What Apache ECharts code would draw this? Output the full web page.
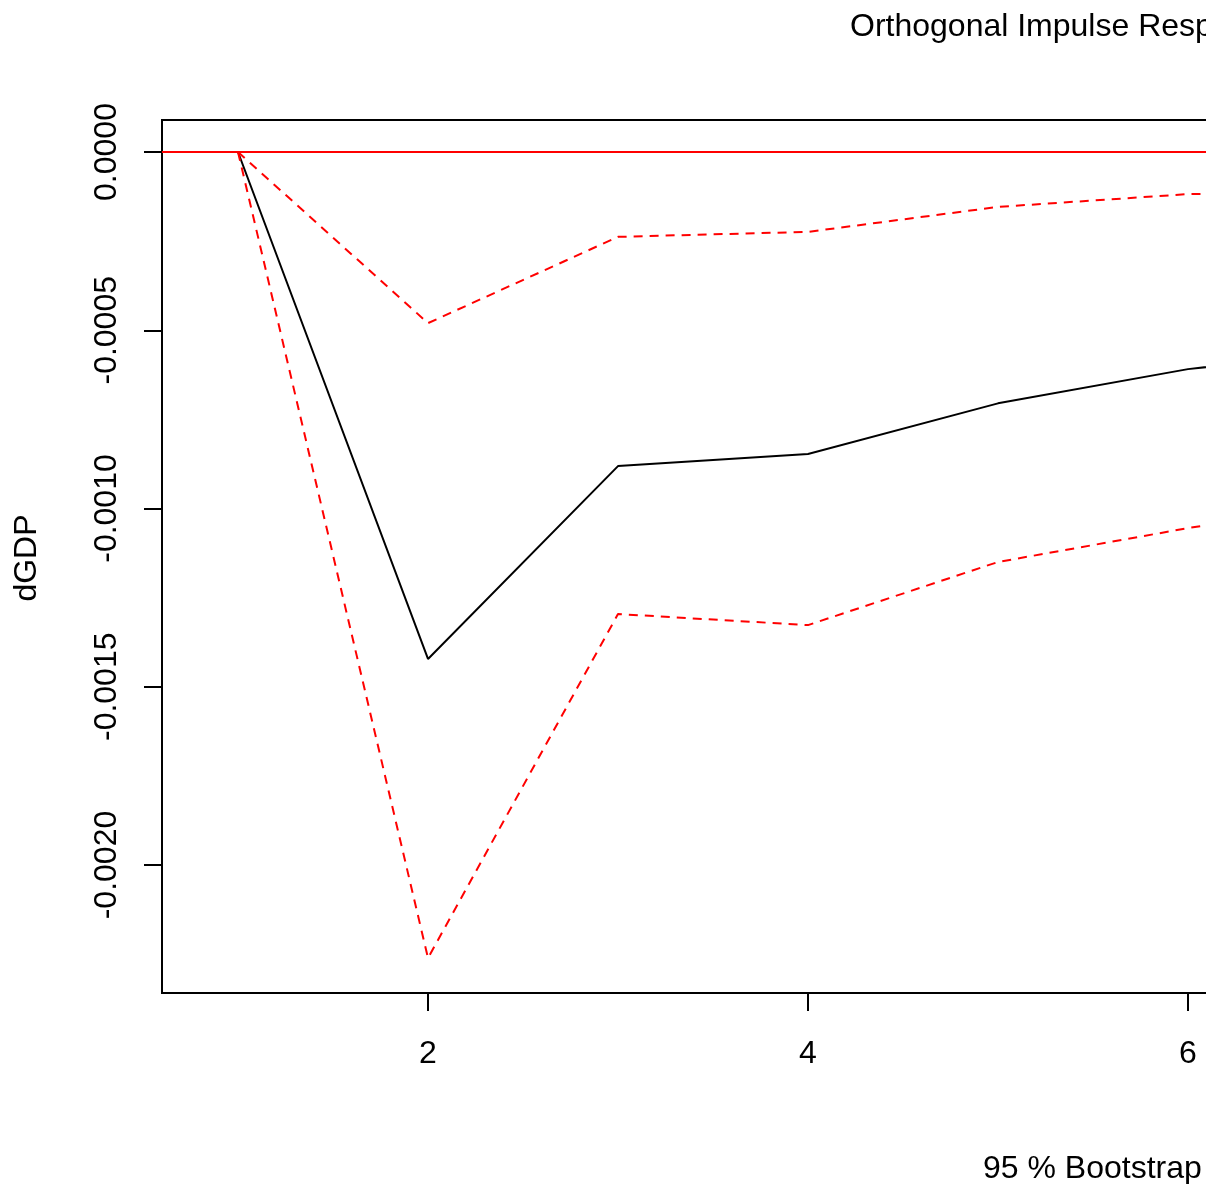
<!DOCTYPE html>
<html>
<head>
<meta charset="utf-8">
<title>Orthogonal Impulse Response</title>
<script src="https://cdn.jsdelivr.net/npm/echarts@6/dist/echarts.min.js"></script>
<style>
    html, body { margin: 0; padding: 0; background: #fff; }
    #chart { width: 1206px; height: 1184px; }
</style>
</head>
<body>
<div id="chart"></div>
<script>
// Horizon steps (only the first few are inside the visible crop)
const steps = [1, 2, 3, 4, 5, 6, 7];

// Point estimate and 95 % bootstrap band
const irfValues   = [0, -0.001422, -0.000881, -0.000847, -0.000705, -0.000609, -0.000550];
const upperValues = [0, -0.000480, -0.000238, -0.000224, -0.000154, -0.000118, -0.000112];
const lowerValues = [0, -0.002261, -0.001296, -0.001327, -0.001150, -0.001055, -0.000970];

// Axis ticks
const xTicks = [2, 4, 6, 8, 10];
const yTicks = [0, -0.0005, -0.0010, -0.0015, -0.0020];

const FONT = 'Liberation Sans';

function pairs(values) {
    return steps.map((s, i) => [s, values[i]]);
}

document.addEventListener('DOMContentLoaded', function() {
    const myChart = echarts.init(document.getElementById('chart'));

    const dashed = {
        color: '#ff0000',
        width: 2,
        type: [9, 7]
    };

    const option = {
        animation: false,
        backgroundColor: '#ffffff',
        grid: {
            left: 162,
            top: 120,
            width: 2052,
            height: 873,
            show: true,
            borderColor: '#000',
            borderWidth: 2,
            backgroundColor: 'transparent',
            outerBoundsMode: 'none'
        },
        xAxis: {
            type: 'value',
            min: 0.6,
            max: 11.4,
            splitLine: { show: false },
            axisLine: { show: false, onZero: false },
            axisTick: {
                show: true,
                length: 18,
                customValues: xTicks,
                lineStyle: { color: '#000', width: 2 }
            },
            axisLabel: {
                customValues: xTicks,
                margin: 45,
                fontSize: 32,
                fontFamily: FONT,
                color: '#000'
            }
        },
        yAxis: {
            type: 'value',
            min: -0.002359,
            max: 0.0000898,
            splitLine: { show: false },
            axisLine: { show: false, onZero: false },
            axisTick: {
                show: true,
                length: 18,
                customValues: yTicks,
                lineStyle: { color: '#000', width: 2 }
            },
            axisLabel: {
                customValues: yTicks,
                rotate: 90,
                margin: 39,
                fontSize: 32,
                fontFamily: FONT,
                color: '#000',
                formatter: v => (Math.abs(v) < 1e-12 ? 0 : v).toFixed(4)
            }
        },
        series: [
            {
                name: 'irf',
                type: 'line',
                data: pairs(irfValues),
                showSymbol: false,
                lineStyle: { color: '#000', width: 2 },
                markLine: {
                    silent: true,
                    symbol: 'none',
                    label: { show: false },
                    lineStyle: { color: '#ff0000', width: 2, type: 'solid' },
                    data: [{ yAxis: 0 }]
                },
                z: 3
            },
            {
                name: 'upper',
                type: 'line',
                data: pairs(upperValues),
                showSymbol: false,
                lineStyle: dashed
            },
            {
                name: 'lower',
                type: 'line',
                data: pairs(lowerValues),
                showSymbol: false,
                lineStyle: dashed
            }
        ],
        graphic: [
            {
                type: 'text',
                left: 850,
                top: 11,
                style: {
                    text: 'Orthogonal Impulse Response',
                    font: '32px "Liberation Sans"',
                    fill: '#000'
                }
            },
            {
                type: 'text',
                left: 983,
                top: 1153,
                style: {
                    text: '95 % Bootstrap CI, 100 runs',
                    font: '32px "Liberation Sans"',
                    fill: '#000'
                }
            },
            {
                type: 'text',
                x: 27,
                y: 558,
                rotation: Math.PI / 2,
                style: {
                    text: 'dGDP',
                    font: '32px "Liberation Sans"',
                    fill: '#000',
                    align: 'center',
                    verticalAlign: 'middle'
                }
            }
        ]
    };

    myChart.setOption(option);
});
</script>
</body>
</html>
